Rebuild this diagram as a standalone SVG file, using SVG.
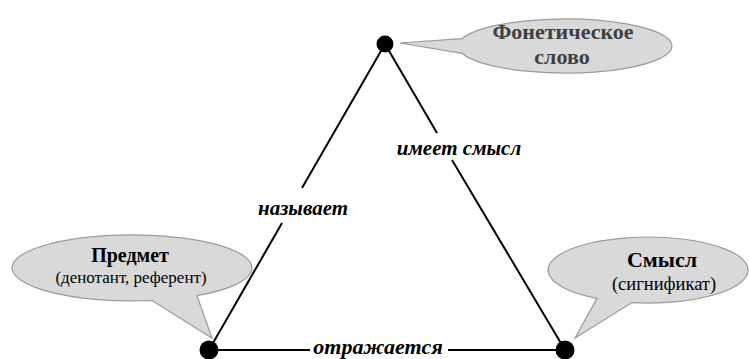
<svg xmlns="http://www.w3.org/2000/svg" width="749" height="359" viewBox="0 0 749 359">
<style>
.edge{stroke:#000;stroke-width:2;fill:none}
.dot{fill:#000}
.call{fill:#d9d9d9;stroke:#9a9a9a;stroke-width:1.2}
.lbl{font-family:"Liberation Serif","Times New Roman","DejaVu Serif",serif;font-weight:bold;font-style:italic;font-size:21px;fill:#000;text-anchor:middle}
.t1{font-family:"Liberation Serif","Times New Roman",serif;font-weight:bold;text-anchor:middle}
.t2{font-family:"Liberation Serif","Times New Roman",serif;text-anchor:middle;fill:#000}
</style>
<rect width="749" height="359" fill="#fff"/>
<g id="connectors">
<line class="edge" x1="385" y1="44" x2="302" y2="188"/>
<line class="edge" x1="282" y1="223" x2="209" y2="350"/>
<line class="edge" x1="385" y1="44" x2="437" y2="133"/>
<line class="edge" x1="452" y1="160" x2="565" y2="350"/>
<line class="edge" x1="209" y1="350" x2="310" y2="350"/>
<line class="edge" x1="448" y1="350" x2="565" y2="350"/>
<text id="l1" class="lbl" x="303" y="215">называет</text>
<text id="l2" class="lbl" x="459" y="155">имеет смысл</text>
<text id="l3" class="lbl" x="378" y="354" style="font-size:22px">отражается</text>
</g>
<g id="n-phon">
<path class="call" d="M462,38.7 A107,27 0 1 1 462,53.3 L400,43 Z"/>
<text class="t1" x="563" y="39" fill="#404040" font-size="22">Фонетическое</text>
<text class="t1" x="562" y="64" fill="#404040" font-size="22">слово</text>
<circle class="dot" cx="385" cy="44" r="8.5"/>
</g>
<g id="n-obj">
<path class="call" d="M197,295.7 A120,33 0 1 0 152,300.5 L212,338 Z"/>
<text class="t1" x="130" y="262" fill="#000" font-size="20">Предмет</text>
<text class="t2" x="131" y="283" font-size="17">(денотант, референт)</text>
<circle class="dot" cx="209" cy="350" r="9.5"/>
</g>
<g id="n-sense">
<path class="call" d="M632,302.6 A100,33 0 1 0 597,298.4 L575,338 Z"/>
<text class="t1" x="662" y="267" fill="#000" font-size="22">Смысл</text>
<text class="t2" x="664" y="290" font-size="18.5">(сигнификат)</text>
<circle class="dot" cx="565" cy="350" r="9.5"/>
</g>
</svg>
